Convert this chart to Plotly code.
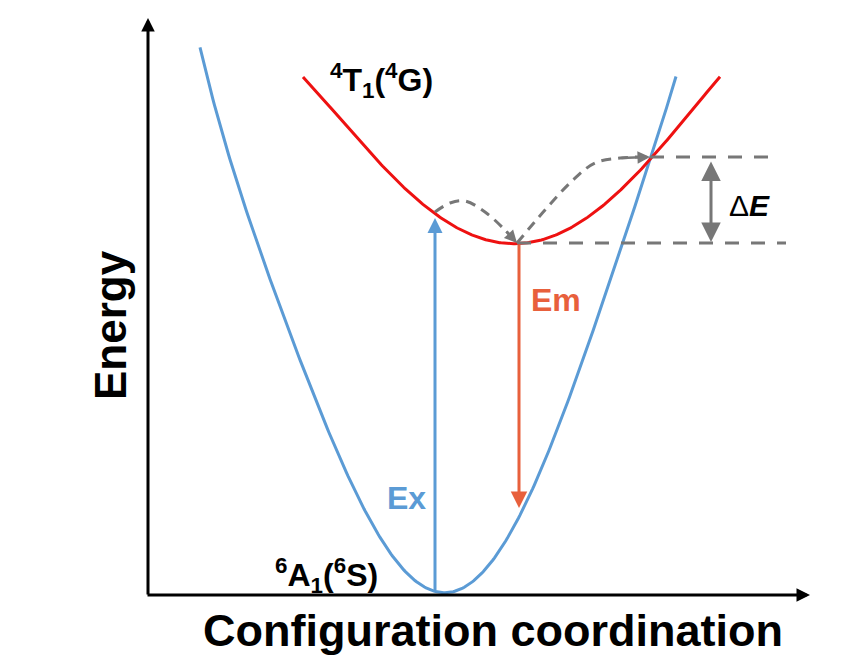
import numpy as np
import plotly.graph_objects as go

# ---- data (schematic coordinates, y grows downward) ----
ground_x = [200, 254, 285, 320, 362, 402, 420, 437, 455, 497, 528, 563, 607, 650, 676]
ground_y = [48, 230, 320, 420, 500, 560, 582, 593, 587, 563, 500, 400, 300, 157, 77]

excited_x = [303, 357, 400, 433, 467, 517, 550, 600, 650, 720]
excited_y = [77, 137, 187, 210, 232, 244, 237, 210, 158, 77]

relax_x = [435, 450, 465, 485, 505, 517]
relax_y = [212, 203, 201, 212, 230, 243]

activ_x = [517, 545, 573, 595, 620, 650]
activ_y = [243, 210, 180, 163, 158, 157]

level_low = 243
level_high = 157
ex_x, ex_from, ex_to = 435, 593, 218
em_x, em_from, em_to = 519, 243, 508
de_x = 711

BLUE = "#5B9BD5"
RED = "#EE1111"
ORANGE = "#E8603C"
GRAY = "#777777"
FONT = "Arial, Liberation Sans, sans-serif"
OFF = 8  # page body margin offset


def smooth(xs, ys, deg=4, n=300, w=None):
    c = np.polyfit(xs, ys, deg, w=w)
    xx = np.linspace(min(xs), max(xs), n)
    return xx, np.polyval(c, xx)


fig = go.Figure()

gw = [3 if x == 437 else 1 for x in ground_x]
gx, gy = smooth(ground_x, ground_y, 6, w=gw)
fig.add_trace(go.Scatter(x=gx, y=gy, mode="lines",
                         line=dict(color=BLUE, width=3), hoverinfo="skip"))
rx, ry = smooth(excited_x, excited_y, 4)
fig.add_trace(go.Scatter(x=rx, y=ry, mode="lines",
                         line=dict(color=RED, width=3), hoverinfo="skip"))
for xs, ys in [(relax_x, relax_y), (activ_x, activ_y)]:
    fig.add_trace(go.Scatter(x=xs, y=ys, mode="lines",
                             line=dict(color=GRAY, width=3, dash="10px,7px", shape="spline"),
                             hoverinfo="skip"))
# horizontal dashed levels
fig.add_trace(go.Scatter(x=[650, 778], y=[level_high, level_high], mode="lines",
                         line=dict(color=GRAY, width=3, dash="14px,12px"), hoverinfo="skip"))
fig.add_trace(go.Scatter(x=[517, 786], y=[level_low, level_low], mode="lines",
                         line=dict(color=GRAY, width=3, dash="14px,12px"), hoverinfo="skip"))


def arrow(x0, y0, x1, y1, color, width=3, size=1.0, head=2, side="end"):
    fig.add_annotation(x=x1, y=y1, ax=x0, ay=y0, xref="x", yref="y",
                       axref="x", ayref="y", text="", showarrow=True,
                       arrowhead=head, arrowsize=size, arrowwidth=width,
                       arrowcolor=color, arrowside=side, startarrowhead=head,
                       startarrowsize=size)

# axes
arrow(148, 596, 148, 18, "black", width=3, size=0.9)
arrow(146, 595, 810, 595, "black", width=3, size=0.9)
# Ex / Em
arrow(ex_x, ex_from, ex_x, ex_to, BLUE, width=3, size=1.0)
arrow(em_x, em_from, em_x, em_to, ORANGE, width=3, size=1.1)
# Delta E double arrow
arrow(de_x, level_high + 3, de_x, level_low - 1, GRAY, width=3, size=1.3, side="end+start")
# dashed arrow heads
arrow(relax_x[-2], relax_y[-2], relax_x[-1], relax_y[-1], GRAY, width=2.5, size=1.0)
arrow(activ_x[-2], activ_y[-2], activ_x[-1], activ_y[-1], GRAY, width=2.5, size=1.0)


def label(x, y, text, size, color="black", angle=0):
    fig.add_annotation(x=x, y=y, xref="x", yref="y", text=text, showarrow=False,
                       font=dict(family=FONT, size=size, color=color), textangle=angle)

label(381, 80, "<b><sup>4</sup>T<sub>1</sub>(<sup>4</sup>G)</b>", 32)
label(326, 575, "<b><sup>6</sup>A<sub>1</sub>(<sup>6</sup>S)</b>", 32)
label(406, 498, "<b>Ex</b>", 32, BLUE)
label(556, 300, "<b>Em</b>", 32, ORANGE)
label(749, 205, "Δ<b><i>E</i></b>", 30)
label(493, 630, "<b>Configuration coordination</b>", 45)
label(110, 325, "<b>Energy</b>", 44, angle=-90)

fig.update_layout(
    width=861 - OFF, height=657 - OFF,
    margin=dict(l=0, r=0, t=0, b=0),
    paper_bgcolor="white", plot_bgcolor="white",
    showlegend=False,
    xaxis=dict(range=[OFF, 861], visible=False, fixedrange=True),
    yaxis=dict(range=[657, OFF], visible=False, fixedrange=True),
)

fig.write_html("out.html")
